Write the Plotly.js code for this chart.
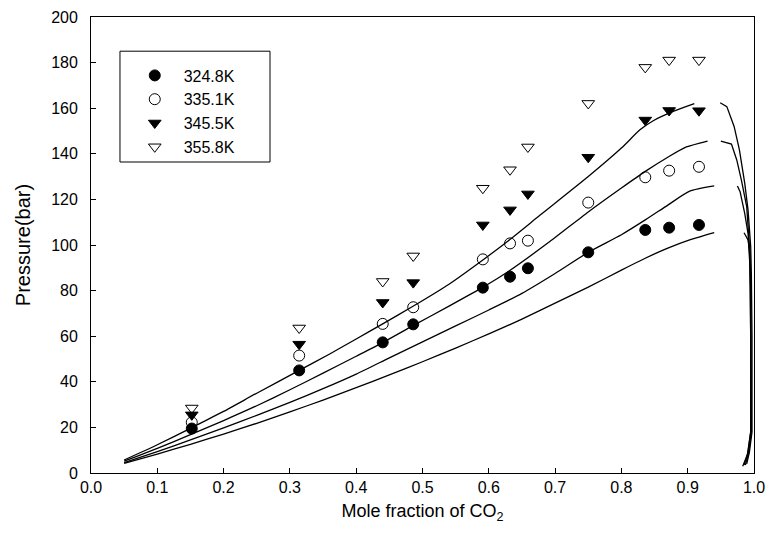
<!DOCTYPE html>
<html>
<head>
<meta charset="utf-8">
<script src="https://cdn.plot.ly/plotly-3.0.1.min.js"></script>
<style>html,body{margin:0;padding:0;background:#fff;}#chart{width:768px;height:549px;}</style>
</head>
<body>
<div id="chart"></div>
<script>
// Experimental data
var xExp = [0.152, 0.314, 0.44, 0.486, 0.591, 0.632, 0.659, 0.75, 0.836, 0.872, 0.917];
var p3248 = [19.5, 45, 57.3, 65.2, 81.3, 86.1, 89.8, 96.8, 106.6, 107.6, 108.8];
var p3351 = [22.2, 51.5, 65.4, 72.7, 93.7, 100.7, 101.9, 118.6, 129.7, 132.6, 134.3];
var p3455 = [25.5, 56.5, 74.8, 83.5, 108.8, 115.4, 122.4, 138.5, 154.8, 159.0, 158.9];
var p3558 = [28.5, 63.6, 84.0, 95.2, 124.9, 133.0, 143.0, 162.1, 177.9, 181.1, 181.1];
var seriesNames = ["324.8K", "335.1K", "345.5K", "355.8K"];

// Calculated curves: liquid branches
var liq1X = [0.05, 0.10, 0.15, 0.20, 0.25, 0.314, 0.36, 0.40, 0.44, 0.485, 0.54, 0.59, 0.63, 0.677, 0.75, 0.80, 0.828, 0.848, 0.88, 0.91];
var liq1P = [5.7, 12.4, 19.6, 27.0, 35.0, 45.0, 52.2, 58.8, 65.4, 73.0, 82.8, 93.2, 102.0, 113.0, 130.0, 142.5, 150.5, 154.5, 158.8, 162.0];
var liq2X = [0.05, 0.10, 0.15, 0.20, 0.25, 0.30, 0.35, 0.40, 0.44, 0.485, 0.54, 0.59, 0.63, 0.692, 0.75, 0.80, 0.836, 0.87, 0.898, 0.93];
var liq2P = [5.2, 10.8, 16.8, 23.0, 29.5, 36.5, 43.8, 51.2, 57.2, 64.5, 73.2, 81.3, 88.5, 101.5, 114.5, 125.0, 132.3, 138.5, 143.0, 145.6];
var liq3X = [0.05, 0.10, 0.15, 0.20, 0.25, 0.30, 0.35, 0.40, 0.45, 0.50, 0.55, 0.60, 0.65, 0.70, 0.75, 0.80, 0.836, 0.87, 0.903, 0.94];
var liq3P = [4.6, 9.4, 14.5, 19.8, 25.3, 31.0, 37.0, 43.4, 50.5, 57.5, 64.5, 71.5, 78.8, 87.5, 96.8, 104.5, 111.0, 117.5, 123.6, 125.9];
var liq4X = [0.05, 0.10, 0.15, 0.20, 0.25, 0.30, 0.35, 0.40, 0.45, 0.50, 0.55, 0.60, 0.65, 0.70, 0.75, 0.80, 0.836, 0.87, 0.903, 0.94];
var liq4P = [4.2, 8.3, 12.6, 17.1, 21.8, 26.8, 32.0, 37.4, 43.0, 48.8, 54.8, 61.0, 67.5, 74.5, 81.5, 89.0, 94.2, 98.6, 102.2, 105.4];

// Calculated curves: vapour branches
var vap1X = [0.949, 0.959, 0.970, 0.978, 0.986, 0.991, 0.995, 0.996, 0.997, 0.997, 0.997, 0.993, 0.989];
var vap1P = [162.4, 160.7, 152.0, 141.7, 127.1, 115.4, 99.3, 87.6, 60.0, 35.0, 18.0, 9.0, 4.0];
var vap2X = [0.950, 0.966, 0.974, 0.981, 0.989, 0.993, 0.995, 0.996, 0.996, 0.992, 0.987];
var vap2P = [145.6, 144.3, 137.3, 128.5, 116.8, 100.0, 80.0, 50.0, 18.0, 9.0, 3.5];
var vap3X = [0.975, 0.979, 0.986, 0.991, 0.994, 0.995, 0.995, 0.991, 0.985];
var vap3P = [125.9, 123.4, 113.9, 105.1, 90.0, 60.0, 18.0, 9.0, 3.5];
var vap4X = [0.985, 0.991, 0.994, 0.995, 0.995, 0.990, 0.983];
var vap4P = [105.4, 102.2, 96.4, 60.0, 18.0, 8.0, 3.0];

var xTicks = [0.0, 0.1, 0.2, 0.3, 0.4, 0.5, 0.6, 0.7, 0.8, 0.9, 1.0];
var yTicks = [0, 20, 40, 60, 80, 100, 120, 140, 160, 180, 200];

var FONT = "Liberation Sans, Arial, sans-serif";
var nb = "\u00a0\u00a0";

function curve(x, y, smooth) {
  return {x: x, y: y, mode: "lines", type: "scatter", showlegend: false, hoverinfo: "skip",
          line: {color: "#000", width: 1.3, shape: smooth ? "spline" : "linear", smoothing: 0.6}};
}
function pts(y, i, sym) {
  return {x: xExp, y: y, mode: "markers", type: "scatter", name: nb + seriesNames[i],
          legendgroup: "g" + i,
          marker: {symbol: sym, size: 11, color: "#000", line: {color: "#000", width: 1}}};
}

var data = [
  curve(liq1X, liq1P, true), curve(liq2X, liq2P, true), curve(liq3X, liq3P, true), curve(liq4X, liq4P, true),
  curve(vap1X, vap1P, false), curve(vap2X, vap2P, false), curve(vap3X, vap3P, false), curve(vap4X, vap4P, false),
  pts(p3248, 0, "circle"),
  pts(p3351, 1, "circle-open"),
  pts(p3455, 2, "triangle-down"),
  pts(p3558, 3, "triangle-down-open")
];

var layout = {
  width: 768, height: 549,
  margin: {l: 91, r: 14, t: 17, b: 76},
  paper_bgcolor: "#fff", plot_bgcolor: "#fff",
  font: {family: FONT, color: "#000", size: 16},
  showlegend: true,
  legend: {x: 0.066, y: 0.909, xanchor: "left", yanchor: "top", bgcolor: "rgba(0,0,0,0)",
           borderwidth: 0, font: {family: FONT, size: 16, color: "#000"},
           traceorder: "grouped", tracegroupgap: 0},
  xaxis: {range: [0, 1], tickvals: xTicks, ticktext: xTicks.map(function(v){return v.toFixed(1);}),
          ticks: "inside", ticklen: 5, tickcolor: "#000", showgrid: false, zeroline: false,
          showline: true, linecolor: "#000", linewidth: 1, mirror: true,
          tickfont: {family: FONT, size: 16},
          title: {text: "Mole fraction of CO<sub>2</sub>", font: {family: FONT, size: 18}, standoff: 9}},
  yaxis: {range: [0, 200], tickvals: yTicks, ticktext: yTicks.map(function(v){return String(v) + "\u00a0\u00a0";}),
          ticks: "inside", ticklen: 5, tickcolor: "#000",
          showgrid: false, zeroline: false, showline: true, linecolor: "#000", linewidth: 1, mirror: true,
          tickfont: {family: FONT, size: 16},
          title: {text: "Pressure(bar)", font: {family: FONT, size: 20}, standoff: 15}},
  shapes: [{type: "rect", xref: "paper", yref: "paper", x0: 0.0437, x1: 0.270, y0: 0.682, y1: 0.925,
            line: {color: "#000", width: 1}, fillcolor: "rgba(0,0,0,0)"}]
};

Plotly.newPlot("chart", data, layout, {displayModeBar: false, staticPlot: true});
</script>
</body>
</html>
